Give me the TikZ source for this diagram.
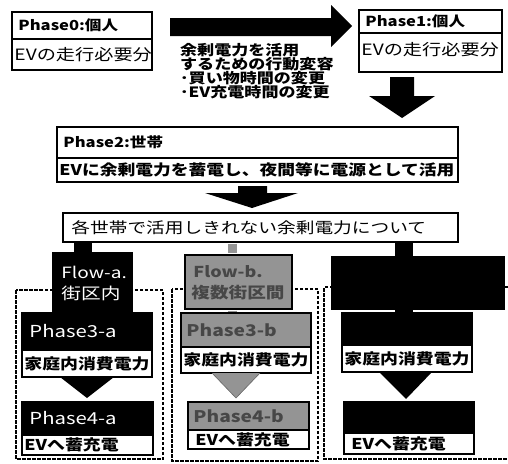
\documentclass[tikz,border=0pt]{standalone}
\usepackage{fontspec}
\newfontfamily\jp[FakeStretch=1.2]{Noto Sans CJK JP}
\newfontfamily\jpr[FakeStretch=1.23]{Noto Sans CJK JP}
\usetikzlibrary{calc}
\newcommand\mkbox[6]{\node[#6, minimum width={(#4-#2)*1pt}, minimum height={(#5-#3)*1pt}] (#1) at ({(#2+#4)/2},{(#3+#5)/2}) {};}
\newcommand\fs[1]{\fontsize{#1}{#1}\selectfont}
\begin{document}
\begin{tikzpicture}[x=1pt,y=-1pt,
  bx/.style={draw=black, line width=1.5pt, inner sep=0pt, fill=white},
  blk/.style={draw=black, fill=black, line width=1.5pt, inner sep=0pt},
  gry/.style={draw=black, fill=black!42, line width=1.5pt, inner sep=0pt},
  tt/.style={inner sep=0pt, anchor=west},
  dashbox/.style={draw=black, line width=2pt, dash pattern=on 3.5pt off 1.5pt},
  stub/.style={draw=black, line width=18pt},
  gstub/.style={draw=black!42, line width=9pt},
  grytxt/.style={text=black!72}]
\useasboundingbox (0,0) rectangle (508,463);

% Phase0 / Phase1
\mkbox{p0t}{12}{12}{152}{39}{bx}
\mkbox{p0b}{12}{39}{152}{70}{bx}
\node[tt, font=\jp\bfseries\fs{13.8}] (p0tt) at ($(p0t.west)+(7,0)$) {Phase0:個人};
\node[tt, font=\jpr\fs{15.6}] (p0bt) at ($(p0b.west)+(3,0.5)$) {EVの走行必要分};

\mkbox{p1t}{359}{10}{502}{33}{bx}
\mkbox{p1b}{359}{33}{502}{72}{bx}
\node[tt, font=\jp\bfseries\fs{13.8}] (p1tt) at ($(p1t.west)+(7,0)$) {Phase1:個人};
\node[tt, font=\jpr\fs{15.6}] (p1bt) at ($(p1b.west)+(3,-3)$) {EVの走行必要分};

% big right arrow
\fill[black] (170,18) -- (331,18) -- (331,5) -- (352,26) -- (331,47) -- (331,36) -- (170,36) -- cycle;
\node[anchor=north west, inner sep=0pt, align=left, font=\jp\bfseries\fontsize{14.2}{14}\selectfont] (memo) at (180,43)
 {余剰電力を活用\\するための行動変容\\･買い物時間の変更\\･EV充電時間の変更};

% down arrow Phase1 -> Phase2
\fill[black] (390,77) -- (414,77) -- (414,96) -- (435,96) -- (402,118) -- (369,96) -- (390,96) -- cycle;

% Phase2
\mkbox{p2t}{57}{127}{458}{158}{bx}
\mkbox{p2b}{57}{158}{458}{182}{bx}
\node[tt, font=\jp\bfseries\fs{13.8}] (p2tt) at ($(p2t.west)+(7,0)$) {Phase2:世帯};
\node[tt, font=\jp\bfseries\fs{14.8}] (p2bt) at ($(p2b.west)+(3,0)$) {EVに余剰電力を蓄電し、夜間等に電源として活用};

% down arrow Phase2 -> all
\fill[black] (238,186) -- (267,186) -- (267,193) -- (298,193) -- (252,208) -- (205,193) -- (238,193) -- cycle;

\mkbox{all}{63}{213}{458}{242}{bx}
\node[tt, font=\jpr\fs{15.2}] (allt) at ($(all.west)+(9,0)$) {各世帯で活用しきれない余剰電力について};

% dashed groups
\draw[dashbox] (16,290) rectangle (163,459);
\draw[dashbox] (172,289) rectangle (318,461);
\draw[dashbox] (508,287) -- (324,287) -- (324,459) -- (508,459);

% Flow boxes
\mkbox{fa}{53}{253}{132}{311}{blk}
\mkbox{fb}{185}{255}{292}{309}{gry}
\mkbox{fc}{332}{257}{504}{309}{blk}
\draw[stub] ($(all.south west)+(21,0)$) -- ($(fa.north west)+(31,0)$);
\draw[gstub] ($(all.south west)+(170.5,0.8)$) -- ($(fb.north west)+(48.5,-0.8)$);
\draw[stub] ($(all.south west)+(342,0)$) -- ($(fc.north west)+(73,0)$);
\node[tt, text=white, font=\jpr\fs{15.5}] (fat1) at ($(fa.west)+(9,-10)$) {Flow-a.};
\node[tt, text=white, font=\jpr\fs{16}] (fat2) at ($(fa.west)+(9,11)$) {街区内};
\node[tt, grytxt, font=\jp\bfseries\fs{15}] (fbt1) at ($(fb.west)+(9,-10)$) {Flow-b.};
\node[tt, grytxt, font=\jp\bfseries\fs{15.5}] (fbt2) at ($(fb.west)+(7,11)$) {複数街区間};

% Phase3 boxes
\mkbox{p3at}{22}{313}{152}{350}{blk}
\mkbox{p3ab}{22}{350}{152}{377}{bx}
\mkbox{p3bt}{181}{313}{311}{347}{gry}
\mkbox{p3bb}{181}{347}{311}{373}{bx}
\mkbox{p3ct}{342}{313}{472}{345}{blk}
\mkbox{p3cb}{342}{345}{472}{372}{bx}
\draw[stub] ($(fa.south west)+(31,-1)$) -- ($(p3at.north west)+(62,1)$);
\draw[gstub] ($(fb.south west)+(48.5,0.8)$) -- ($(p3bt.north west)+(52.5,-0.8)$);
\draw[stub] ($(fc.south west)+(73,-1)$) -- ($(p3ct.north west)+(63,1)$);
\node[tt, text=white, font=\jpr\fs{16.5}] (p3att) at ($(p3at.west)+(8,0)$) {Phase3-a};
\node[tt, grytxt, font=\jp\bfseries\fs{16}] (p3btt) at ($(p3bt.west)+(6,0)$) {Phase3-b};
\node[tt, font=\jp\bfseries\fs{14.9}] (p3abt) at ($(p3ab.west)+(3,0)$) {家庭内消費電力};
\node[tt, font=\jp\bfseries\fs{14.9}] (p3bbt) at ($(p3bb.west)+(3,0)$) {家庭内消費電力};
\node[tt, font=\jp\bfseries\fs{14.9}] (p3cbt) at ($(p3cb.west)+(3,0)$) {家庭内消費電力};

% triangles
\fill[black] (60,377) -- (114,377) -- (87,398) -- cycle;
\fill[black!42] (212,373) -- (260,373) -- (236,398) -- cycle;
\draw[black!60, line width=0.6pt] (212,373) -- (236,398) -- (260,373);
\fill[black] (379,372) -- (432,372) -- (406,399) -- cycle;

% Phase4 boxes
\mkbox{p4at}{22}{402}{153}{435}{blk}
\mkbox{p4ab}{22}{435}{153}{455}{bx}
\mkbox{p4bt}{188}{402}{309}{430}{gry}
\mkbox{p4bb}{188}{430}{309}{449}{bx}
\mkbox{p4ct}{344}{402}{474}{433}{blk}
\mkbox{p4cb}{344}{433}{474}{454}{bx}
\node[tt, text=white, font=\jpr\fs{16.5}] (p4att) at ($(p4at.west)+(8,0)$) {Phase4-a};
\node[tt, grytxt, font=\jp\bfseries\fs{16}] (p4btt) at ($(p4bt.west)+(6,0)$) {Phase4-b};
\node[tt, font=\jp\bfseries\fs{14.9}] (p4abt) at ($(p4ab.west)+(3,0)$) {EVへ蓄充電};
\node[tt, font=\jp\bfseries\fs{14.9}] (p4bbt) at ($(p4bb.west)+(8,0)$) {EVへ蓄充電};
\node[tt, font=\jp\bfseries\fs{14.9}] (p4cbt) at ($(p4cb.west)+(8,0)$) {EVへ蓄充電};
\end{tikzpicture}
\end{document}
